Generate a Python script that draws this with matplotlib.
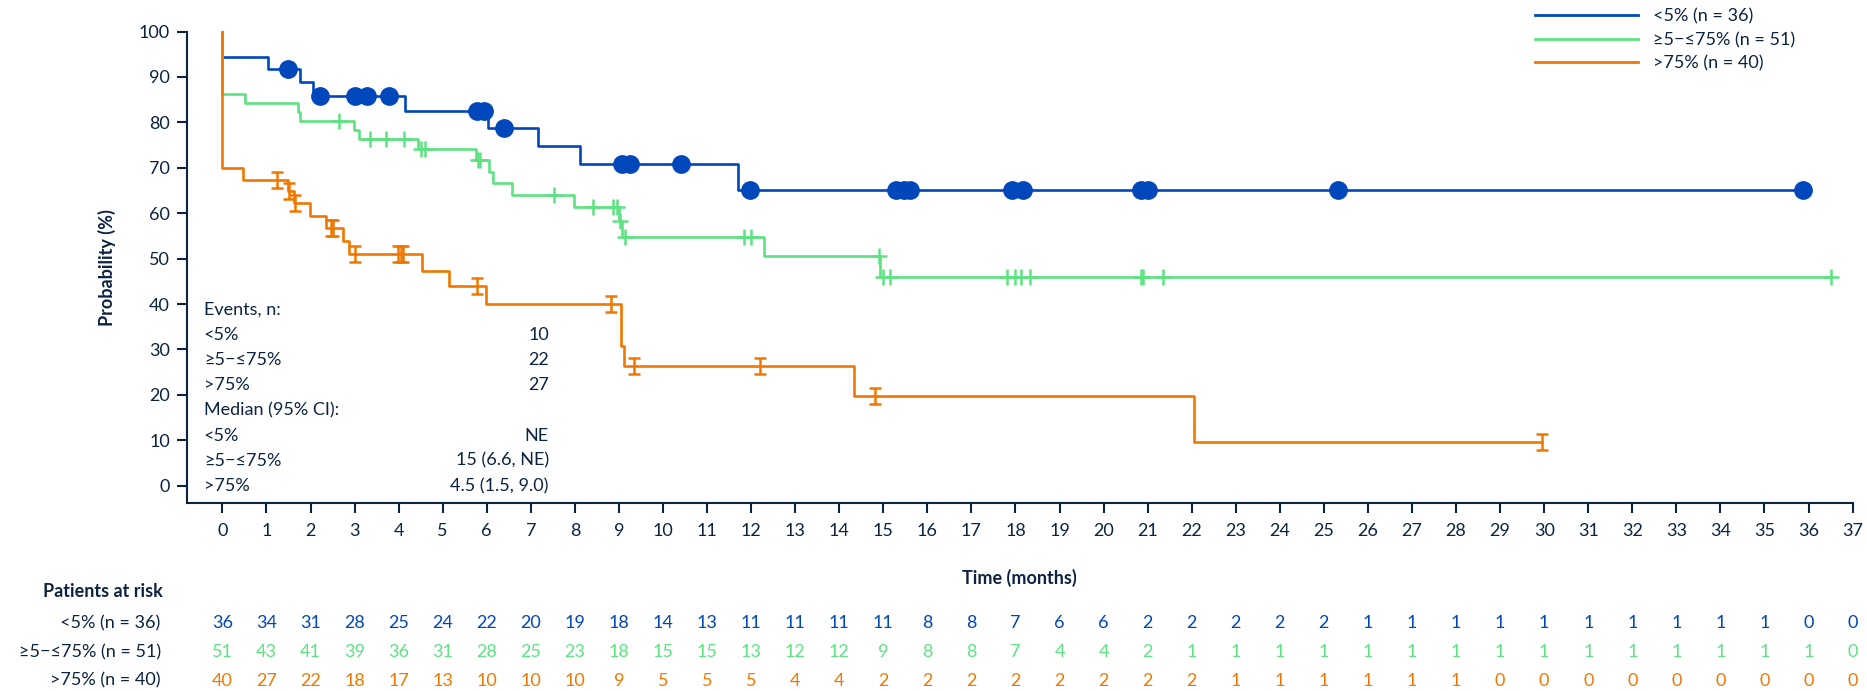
import numpy as np
import matplotlib
matplotlib.use("Agg")
import matplotlib.pyplot as plt
from matplotlib.path import Path
from matplotlib.lines import Line2D
from matplotlib.transforms import blended_transform_factory

plt.rcParams['font.family'] = ['Lato', 'DejaVu Sans']
plt.rcParams['font.size'] = 13

NAVY = "#0c2340"
BLUE = "#0047bb"
GREEN = "#5ee282"
ORANGE = "#f07800"
FS = 13

grupos = ["<5% (n = 36)", "≥5−≤75% (n = 51)", ">75% (n = 40)"]

# curvas de Kaplan-Meier: tiempos de evento y probabilidad despues de cada evento
t_bajo = [0, 1.04, 1.77, 2.05, 4.14, 6.03, 7.17, 8.12, 11.70]
s_bajo = [94.4, 91.7, 88.9, 85.9, 82.4, 78.75, 74.8, 70.8, 65.1]
fin_bajo = 35.88
cens_bajo = [1.49, 2.21, 3.02, 3.29, 3.78, 5.77, 5.94, 6.40, 9.07, 9.24, 10.40,
             11.98, 15.28, 15.46, 15.61, 17.93, 18.17, 20.86, 21.0, 25.32, 35.88]

t_medio = [0, 0.51, 1.71, 1.77, 2.98, 3.11, 4.44, 5.75, 6.04, 6.14, 6.58, 7.98,
           9.0, 9.08, 12.30, 14.93]
s_medio = [86.3, 84.3, 82.3, 80.4, 78.3, 76.3, 74.1, 71.7, 69.0, 66.7, 64.0, 61.3,
           58.3, 54.7, 50.6, 46.0]
fin_medio = 36.5
cens_medio = [2.64, 3.34, 3.71, 4.13, 4.51, 4.59, 5.80, 5.85, 7.52, 8.41, 8.87, 8.96,
              9.03, 9.13, 11.85, 11.99, 14.9, 15.0, 15.16, 17.8, 17.99, 18.12, 18.33,
              20.86, 20.90, 21.34, 36.5]

t_alto = [0, 0.47, 1.48, 1.62, 1.99, 2.35, 2.74, 2.87, 4.53, 5.15, 5.98, 9.05, 9.12,
          14.33, 22.05]
s_alto = [70.0, 67.4, 64.9, 62.3, 59.4, 56.8, 53.9, 51.0, 47.3, 44.0, 39.9, 30.8, 26.4,
          19.8, 9.7]
fin_alto = 29.94
cens_alto = [1.25, 1.52, 1.64, 2.46, 2.52, 3.02, 3.99, 4.05, 4.11, 5.77, 8.83, 9.34,
             12.2, 14.81, 29.94]

# pacientes en riesgo por mes (0..37)
riesgo_bajo = [36, 34, 31, 28, 25, 24, 22, 20, 19, 18, 14, 13, 11, 11, 11, 11, 8, 8, 7,
               6, 6, 2, 2, 2, 2, 2, 1, 1, 1, 1, 1, 1, 1, 1, 1, 1, 0, 0]
riesgo_medio = [51, 43, 41, 39, 36, 31, 28, 25, 23, 18, 15, 15, 13, 12, 12, 9, 8, 8, 7,
                4, 4, 2, 1, 1, 1, 1, 1, 1, 1, 1, 1, 1, 1, 1, 1, 1, 1, 0]
riesgo_alto = [40, 27, 22, 18, 17, 13, 10, 10, 10, 9, 5, 5, 5, 4, 4, 2, 2, 2, 2, 2, 2,
               2, 2, 1, 1, 1, 1, 1, 1, 0, 0, 0, 0, 0, 0, 0, 0, 0]

etiquetas_eventos = ["Events, n:", "<5%", "≥5−≤75%", ">75%", "Median (95% CI):",
                     "<5%", "≥5−≤75%", ">75%"]
valores_eventos = ["", "10", "22", "27", "", "NE", "15 (6.6, NE)", "4.5 (1.5, 9.0)"]


def nivel(tiempos, superv, t):
    i = np.searchsorted(tiempos, t, side="right") - 1
    return superv[i]


# marcador en forma de I para los censurados del grupo alto
marca_i = Path([(-0.4, 0.5), (0.4, 0.5), (0, 0.5), (0, -0.5), (-0.4, -0.5), (0.4, -0.5)],
               [Path.MOVETO, Path.LINETO, Path.MOVETO, Path.LINETO, Path.MOVETO, Path.LINETO])

fig = plt.figure(figsize=(18.67, 6.91), dpi=100)
ax = fig.add_axes([186.7 / 1867, 1 - 503.3 / 691, 1665.9 / 1867, 471.8 / 691])

series = [
    (t_bajo, s_bajo, fin_bajo, cens_bajo, BLUE, dict(marker="o", markersize=12.5)),
    (t_medio, s_medio, fin_medio, cens_medio, GREEN, dict(marker="+", markersize=11.5, markeredgewidth=1.8)),
    (t_alto, s_alto, fin_alto, cens_alto, ORANGE, dict(marker=marca_i, markersize=11.5, markeredgewidth=1.8,
                                                        markerfacecolor="none")),
]
for tiempos, superv, fin, cens, color, estilo in series:
    xs = [0] + list(tiempos) + [fin]
    ys = [100] + list(superv) + [superv[-1]]
    ax.step(xs, ys, where="post", color=color, lw=1.9, clip_on=False)
    yc = [nivel(tiempos, superv, t) for t in cens]
    ax.plot(cens, yc, ls="none", color=color, clip_on=False, **estilo)

ax.set_xlim(-0.81, 37)
ax.set_ylim(-3.87, 100)
ax.set_xticks(range(0, 38))
ax.set_yticks(range(0, 101, 10))
for lado in ["top", "right"]:
    ax.spines[lado].set_visible(False)
for lado in ["left", "bottom"]:
    ax.spines[lado].set_color(NAVY)
    ax.spines[lado].set_linewidth(1.5)
ax.tick_params(axis="both", colors=NAVY, width=1.5, length=7, labelsize=FS)
ax.tick_params(axis="x", pad=7)
ax.tick_params(axis="y", pad=5)

ax.set_ylabel("Probability (%)", fontweight="bold", color=NAVY, fontsize=FS)
ax.yaxis.label.set_va("center")
ax.yaxis.set_label_coords(-0.0478, 0.5)
ax.set_xlabel("Time (months)", fontweight="bold", color=NAVY, fontsize=FS)
ax.xaxis.label.set_va("center")
ax.xaxis.set_label_coords(0.5, -0.158)

# tabla de eventos y medianas dentro del grafico
y_texto = 38.8
for etiqueta, valor in zip(etiquetas_eventos, valores_eventos):
    ax.text(-0.42, y_texto, etiqueta, ha="left", va="center", color=NAVY, fontsize=FS)
    if valor:
        ax.text(7.41, y_texto, valor, ha="right", va="center", color=NAVY, fontsize=FS)
    y_texto -= 5.55

leyenda = [Line2D([0], [0], color=c, lw=2) for c in [BLUE, GREEN, ORANGE]]
leg = ax.legend(leyenda, grupos, loc="upper left", bbox_to_anchor=(1535 / 1867, 1 - 8.5 / 691),
                bbox_transform=fig.transFigure, frameon=False, handlelength=5.7,
                handletextpad=0.85, labelspacing=0.4, borderpad=0, borderaxespad=0, fontsize=FS)
for txt in leg.get_texts():
    txt.set_color(NAVY)

# pacientes en riesgo
mezcla = blended_transform_factory(ax.transData, fig.transFigure)
fig.text(162.7 / 1867, 1 - 591.7 / 691, "Patients at risk", ha="right", va="center",
         fontweight="bold", color=NAVY, fontsize=FS)
filas_y = [1 - 623.3 / 691, 1 - 652.3 / 691, 1 - 680.7 / 691]
for nombre, fila, color, fy in zip(grupos, [riesgo_bajo, riesgo_medio, riesgo_alto],
                                   [BLUE, GREEN, ORANGE], filas_y):
    fig.text(160.7 / 1867, fy, nombre, ha="right", va="center", color=NAVY, fontsize=FS)
    for mes, n in enumerate(fila):
        ax.text(mes, fy, str(n), transform=mezcla, ha="center", va="center",
                color=color, fontsize=FS)

fig.savefig("out.png", dpi=100)
